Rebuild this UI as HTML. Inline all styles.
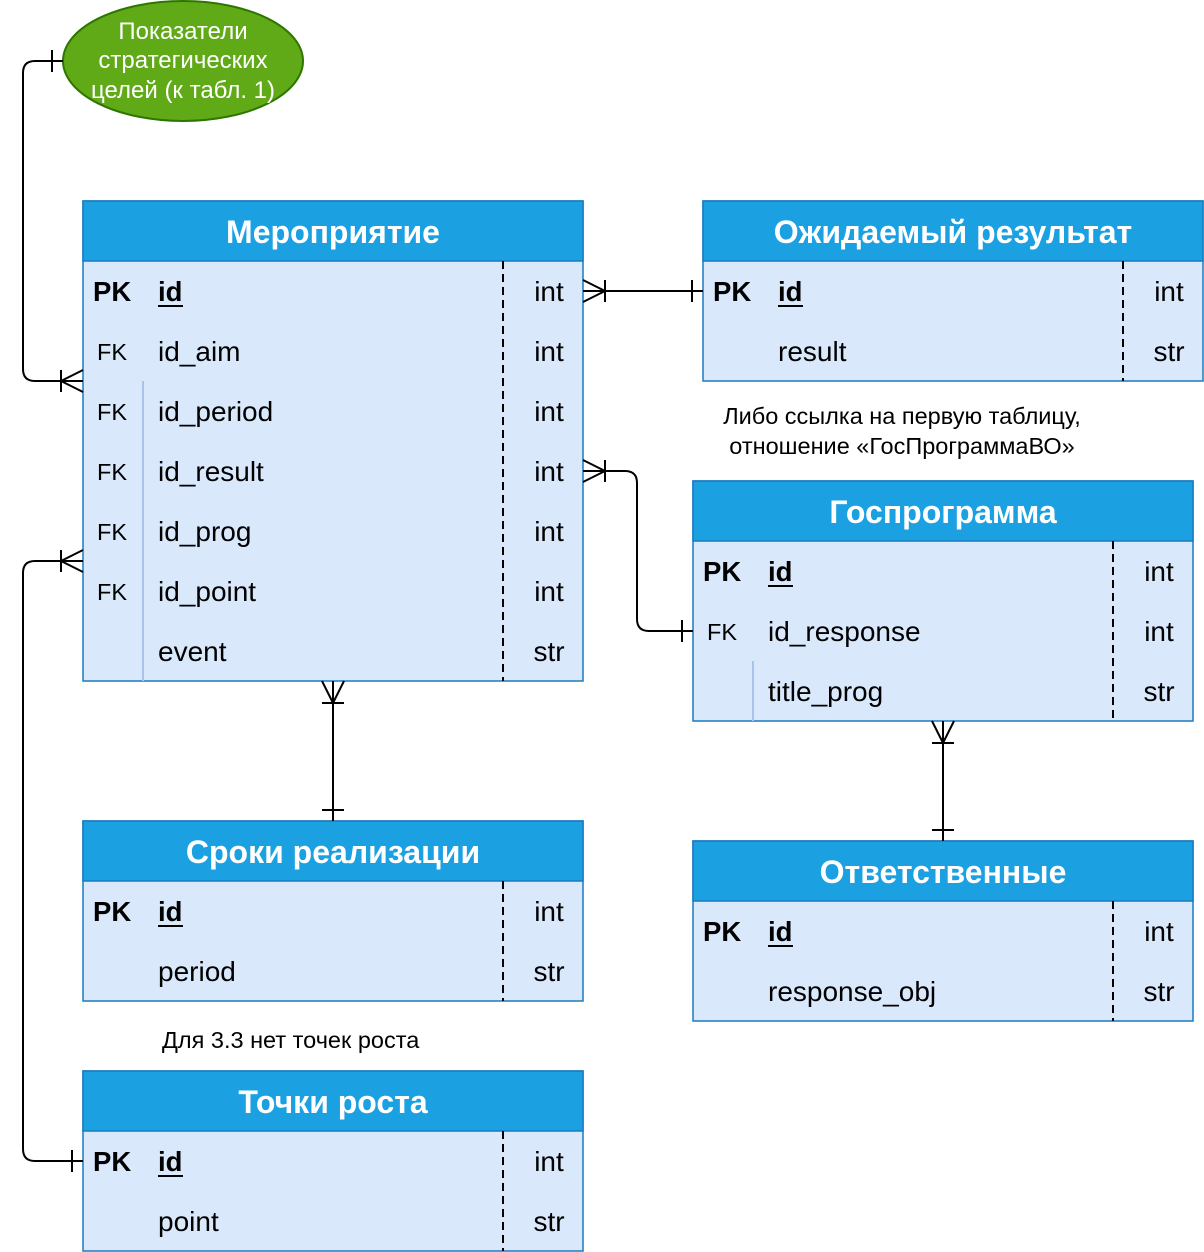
<!DOCTYPE html>
<html><head><meta charset="utf-8"><style>
html,body{margin:0;padding:0;background:#fff;}
svg{display:block;}
text{font-family:"Liberation Sans",Arial,sans-serif;}
.h{font-size:32px;font-weight:bold;fill:#fff;text-anchor:middle;}
.f{font-size:28px;fill:#000;}
.pk{font-size:27.5px;font-weight:bold;fill:#000;}
.fk{font-size:23.5px;fill:#000;}
.t{font-size:28px;fill:#000;text-anchor:middle;}
.n{font-size:23.5px;fill:#000;}
.l{fill:none;stroke:#000;stroke-width:2;}
.d{stroke:#000;stroke-width:2;stroke-dasharray:8,5;}
</style></head><body>
<svg width="1204" height="1252" viewBox="0 0 1204 1252" xmlns="http://www.w3.org/2000/svg">
<ellipse cx="183" cy="61" rx="120" ry="60" fill="#60a917" stroke="#2d7600" stroke-width="2"/>
<text x="183" y="39" font-size="24" fill="#fff" text-anchor="middle">Показатели</text>
<text x="183" y="68" font-size="24" fill="#fff" text-anchor="middle">стратегических</text>
<text x="183" y="98" font-size="24" fill="#fff" text-anchor="middle">целей (к табл. 1)</text>

<rect x="83" y="201" width="500" height="480" fill="#dae8fc" stroke="#1a7bbf" stroke-width="1.5"/>
<rect x="83" y="201" width="500" height="60" fill="#1ba1e2" stroke="#1a7bbf" stroke-width="1.5"/>
<text class="h" x="333" y="243">Мероприятие</text>
<line class="d" x1="503" y1="261" x2="503" y2="681"/>
<line x1="143" y1="381" x2="143" y2="681" stroke="#a9c4eb" stroke-width="2"/>
<text class="pk" x="93" y="301">PK</text><text class="pk" x="158" y="301">id</text><text class="t" x="549" y="301">int</text>
<line x1="158" y1="306" x2="183" y2="306" stroke="#000" stroke-width="2"/>
<text class="fk" x="97" y="360">FK</text><text class="f" x="158" y="361">id_aim</text><text class="t" x="549" y="361">int</text>
<text class="fk" x="97" y="420">FK</text><text class="f" x="158" y="421">id_period</text><text class="t" x="549" y="421">int</text>
<text class="fk" x="97" y="480">FK</text><text class="f" x="158" y="481">id_result</text><text class="t" x="549" y="481">int</text>
<text class="fk" x="97" y="540">FK</text><text class="f" x="158" y="541">id_prog</text><text class="t" x="549" y="541">int</text>
<text class="fk" x="97" y="600">FK</text><text class="f" x="158" y="601">id_point</text><text class="t" x="549" y="601">int</text>
<text class="f" x="158" y="661">event</text><text class="t" x="549" y="661">str</text>

<rect x="703" y="201" width="500" height="180" fill="#dae8fc" stroke="#1a7bbf" stroke-width="1.5"/>
<rect x="703" y="201" width="500" height="60" fill="#1ba1e2" stroke="#1a7bbf" stroke-width="1.5"/>
<text class="h" x="953" y="243">Ожидаемый результат</text>
<line class="d" x1="1123" y1="261" x2="1123" y2="381"/>
<text class="pk" x="713" y="301">PK</text><text class="pk" x="778" y="301">id</text><text class="t" x="1169" y="301">int</text>
<line x1="778" y1="306" x2="803" y2="306" stroke="#000" stroke-width="2"/>
<text class="f" x="778" y="361">result</text><text class="t" x="1169" y="361">str</text>

<text class="n" x="902" y="424" text-anchor="middle">Либо ссылка на первую таблицу,</text>
<text class="n" x="902" y="454" text-anchor="middle">отношение «ГосПрограммаВО»</text>

<rect x="693" y="481" width="500" height="240" fill="#dae8fc" stroke="#1a7bbf" stroke-width="1.5"/>
<rect x="693" y="481" width="500" height="60" fill="#1ba1e2" stroke="#1a7bbf" stroke-width="1.5"/>
<text class="h" x="943" y="523">Госпрограмма</text>
<line class="d" x1="1113" y1="541" x2="1113" y2="721"/>
<line x1="753" y1="661" x2="753" y2="721" stroke="#a9c4eb" stroke-width="2"/>
<text class="pk" x="703" y="581">PK</text><text class="pk" x="768" y="581">id</text><text class="t" x="1159" y="581">int</text>
<line x1="768" y1="586" x2="793" y2="586" stroke="#000" stroke-width="2"/>
<text class="fk" x="707" y="640">FK</text><text class="f" x="768" y="641">id_response</text><text class="t" x="1159" y="641">int</text>
<text class="f" x="768" y="701">title_prog</text><text class="t" x="1159" y="701">str</text>

<rect x="83" y="821" width="500" height="180" fill="#dae8fc" stroke="#1a7bbf" stroke-width="1.5"/>
<rect x="83" y="821" width="500" height="60" fill="#1ba1e2" stroke="#1a7bbf" stroke-width="1.5"/>
<text class="h" x="333" y="863">Сроки реализации</text>
<line class="d" x1="503" y1="881" x2="503" y2="1001"/>
<text class="pk" x="93" y="921">PK</text><text class="pk" x="158" y="921">id</text><text class="t" x="549" y="921">int</text>
<line x1="158" y1="926" x2="183" y2="926" stroke="#000" stroke-width="2"/>
<text class="f" x="158" y="981">period</text><text class="t" x="549" y="981">str</text>

<text class="n" x="162" y="1048">Для 3.3 нет точек роста</text>

<rect x="693" y="841" width="500" height="180" fill="#dae8fc" stroke="#1a7bbf" stroke-width="1.5"/>
<rect x="693" y="841" width="500" height="60" fill="#1ba1e2" stroke="#1a7bbf" stroke-width="1.5"/>
<text class="h" x="943" y="883">Ответственные</text>
<line class="d" x1="1113" y1="901" x2="1113" y2="1021"/>
<text class="pk" x="703" y="941">PK</text><text class="pk" x="768" y="941">id</text><text class="t" x="1159" y="941">int</text>
<line x1="768" y1="946" x2="793" y2="946" stroke="#000" stroke-width="2"/>
<text class="f" x="768" y="1001">response_obj</text><text class="t" x="1159" y="1001">str</text>

<rect x="83" y="1071" width="500" height="180" fill="#dae8fc" stroke="#1a7bbf" stroke-width="1.5"/>
<rect x="83" y="1071" width="500" height="60" fill="#1ba1e2" stroke="#1a7bbf" stroke-width="1.5"/>
<text class="h" x="333" y="1113">Точки роста</text>
<line class="d" x1="503" y1="1131" x2="503" y2="1251"/>
<text class="pk" x="93" y="1171">PK</text><text class="pk" x="158" y="1171">id</text><text class="t" x="549" y="1171">int</text>
<line x1="158" y1="1176" x2="183" y2="1176" stroke="#000" stroke-width="2"/>
<text class="f" x="158" y="1231">point</text><text class="t" x="549" y="1231">str</text>

<path class="l" d="M63 61 H35 Q23 61 23 73 V369 Q23 381 35 381 H83"/>
<line class="l" x1="52" y1="50" x2="52" y2="72"/>
<path class="l" d="M83 370 L61 381 L83 392 M61 370 V392"/>
<path class="l" d="M583 291 H703"/>
<path class="l" d="M583 280 L605 291 L583 302 M605 280 V302"/>
<line class="l" x1="692" y1="280" x2="692" y2="302"/>
<path class="l" d="M583 471 H625 Q637 471 637 483 V619 Q637 631 649 631 H693"/>
<path class="l" d="M583 460 L605 471 L583 482 M605 460 V482"/>
<line class="l" x1="682" y1="620" x2="682" y2="642"/>
<path class="l" d="M333 681 V821"/>
<path class="l" d="M322 681 L333 703 L344 681 M322 703 H344"/>
<line class="l" x1="322" y1="810" x2="344" y2="810"/>
<path class="l" d="M943 721 V841"/>
<path class="l" d="M932 721 L943 743 L954 721 M932 743 H954"/>
<line class="l" x1="932" y1="830" x2="954" y2="830"/>
<path class="l" d="M83 561 H35 Q23 561 23 573 V1149 Q23 1161 35 1161 H83"/>
<path class="l" d="M83 550 L61 561 L83 572 M61 550 V572"/>
<line class="l" x1="72" y1="1150" x2="72" y2="1172"/>
</svg>
</body></html>
